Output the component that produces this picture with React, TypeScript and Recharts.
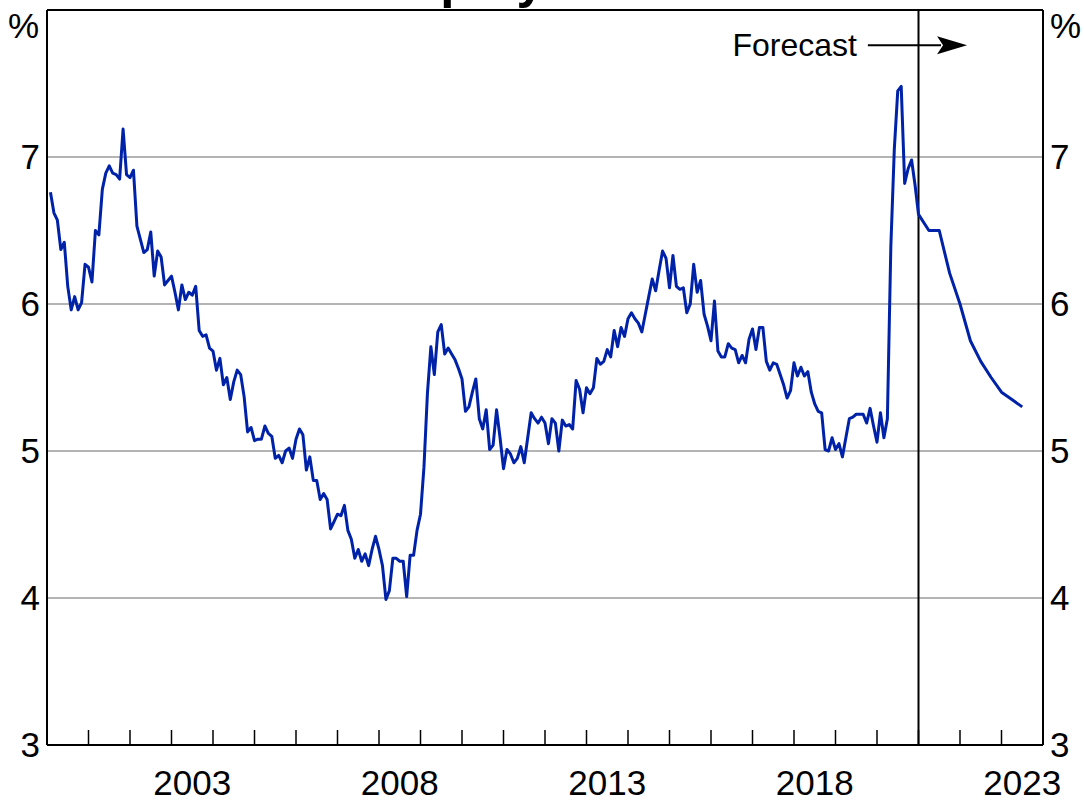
import React from 'react';
import { LineChart, Line, XAxis, YAxis, CartesianGrid, ReferenceLine, Customized } from 'recharts';

// Monthly unemployment rate, per cent (Jan..Dec)
const u2000 = [6.76, 6.62, 6.57, 6.37, 6.42, 6.12, 5.96, 6.05, 5.96, 6.01, 6.27, 6.25];
const u2001 = [6.15, 6.5, 6.47, 6.78, 6.89, 6.94, 6.89, 6.88, 6.85, 7.19, 6.88, 6.86];
const u2002 = [6.91, 6.53, 6.44, 6.35, 6.37, 6.49, 6.19, 6.36, 6.32, 6.13, 6.16, 6.19];
const u2003 = [6.08, 5.96, 6.13, 6.03, 6.08, 6.06, 6.12, 5.82, 5.78, 5.79, 5.7, 5.68];
const u2004 = [5.55, 5.63, 5.45, 5.5, 5.35, 5.47, 5.55, 5.52, 5.37, 5.13, 5.16, 5.07];
const u2005 = [5.08, 5.08, 5.17, 5.12, 5.1, 4.95, 4.97, 4.92, 5.0, 5.02, 4.95, 5.08];
const u2006 = [5.15, 5.11, 4.87, 4.96, 4.8, 4.8, 4.67, 4.71, 4.67, 4.47, 4.52, 4.57];
const u2007 = [4.56, 4.63, 4.46, 4.4, 4.27, 4.33, 4.25, 4.3, 4.22, 4.33, 4.42, 4.33];
const u2008 = [4.22, 3.99, 4.05, 4.27, 4.27, 4.25, 4.25, 4.01, 4.29, 4.29, 4.46, 4.57];
const u2009 = [4.89, 5.39, 5.71, 5.52, 5.81, 5.86, 5.66, 5.7, 5.66, 5.62, 5.56, 5.49];
const u2010 = [5.27, 5.3, 5.4, 5.49, 5.22, 5.15, 5.28, 5.01, 5.04, 5.28, 5.09, 4.88];
const u2011 = [5.01, 4.98, 4.92, 4.95, 5.03, 4.92, 5.09, 5.26, 5.22, 5.19, 5.23, 5.19];
const u2012 = [5.05, 5.22, 5.19, 5.0, 5.21, 5.17, 5.18, 5.15, 5.48, 5.42, 5.26, 5.43];
const u2013 = [5.39, 5.43, 5.63, 5.59, 5.61, 5.69, 5.64, 5.82, 5.71, 5.84, 5.78, 5.9];
const u2014 = [5.94, 5.9, 5.87, 5.81, 5.93, 6.05, 6.17, 6.09, 6.23, 6.36, 6.31, 6.11];
const u2015 = [6.33, 6.12, 6.1, 6.11, 5.94, 6.0, 6.27, 6.08, 6.16, 5.93, 5.85, 5.75];
const u2016 = [6.02, 5.68, 5.64, 5.64, 5.73, 5.7, 5.69, 5.6, 5.65, 5.6, 5.76, 5.83];
const u2017 = [5.69, 5.84, 5.84, 5.61, 5.55, 5.6, 5.59, 5.52, 5.45, 5.36, 5.41, 5.6];
const u2018 = [5.51, 5.57, 5.51, 5.54, 5.4, 5.32, 5.27, 5.26, 5.01, 5.0, 5.09, 5.01];
const u2019 = [5.05, 4.96, 5.09, 5.22, 5.23, 5.25, 5.25, 5.25, 5.19, 5.29, 5.17, 5.06];
const u2020 = [5.26, 5.09, 5.22, 6.39, 7.05, 7.45, 7.48, 6.82, 6.92, 6.98, 6.81, 6.61];

const actualYears = [2000, 2001, 2002, 2003, 2004, 2005, 2006, 2007, 2008, 2009, 2010,
  2011, 2012, 2013, 2014, 2015, 2016, 2017, 2018, 2019, 2020];
const actualByYear = [u2000, u2001, u2002, u2003, u2004, u2005, u2006, u2007, u2008, u2009, u2010,
  u2011, u2012, u2013, u2014, u2015, u2016, u2017, u2018, u2019, u2020];

// Quarterly forecast (end of quarter)
const forecastDates = [2021.25, 2021.5, 2021.75, 2022, 2022.25, 2022.5, 2022.75, 2023, 2023.25, 2023.5];
const forecastValues = [6.5, 6.5, 6.21, 6.0, 5.75, 5.61, 5.5, 5.4, 5.35, 5.3];

const yTicks = [3, 4, 5, 6, 7];
const yDomain = [3, 8];
const xDomain = [2000, 2024];
const yearTickMarks = [2001, 2002, 2003, 2004, 2005, 2006, 2007, 2008, 2009, 2010, 2011, 2012,
  2013, 2014, 2015, 2016, 2017, 2018, 2019, 2020, 2021, 2022, 2023];
const yearLabels = [2003, 2008, 2013, 2018, 2023];
const forecastStart = 2021;
const arrowFrom = { x: 2019.78, y: 7.76 };
const arrowTo = { x: 2022.17, y: 7.76 };

const data: { t: number; v: number }[] = [];
actualByYear.forEach((vals, k) => {
  vals.forEach((v, m) => data.push({ t: actualYears[k] + (m + 1) / 12, v }));
});
forecastDates.forEach((t, i) => data.push({ t, v: forecastValues[i] }));

const labelTicks = yearLabels.map((y) => y + 0.5);

const FONT = '"Liberation Sans", Arial, Helvetica, sans-serif';
const LINE_COLOR = '#0022a8';

const EmptyTick = () => <g />;

const ForecastArrow = (props: any) => {
  const { x1, y1, x2 } = props;
  return (
    <g>
      <text x={x1 - 11} y={y1 + 11} textAnchor="end" fontSize={32} fontFamily={FONT} fill="#000">
        Forecast
      </text>
      <line x1={x1} y1={y1} x2={x2 - 26} y2={y1} stroke="#000" strokeWidth={2} />
      <polygon
        points={`${x2},${y1} ${x2 - 30},${y1 - 9} ${x2 - 24},${y1} ${x2 - 30},${y1 + 9}`}
        fill="#000"
      />
    </g>
  );
};

const Decorations = () => (
  <g fontFamily={FONT} fill="#000">
    <text x={545} y={17} textAnchor="middle" fontSize={51} fontWeight="bold">
      Unemployment Rate
    </text>
    <text x={39} y={58} textAnchor="end" fontSize={35}>%</text>
    <text x={1050} y={58} textAnchor="start" fontSize={35}>%</text>
  </g>
);

export default function App() {
  const tickStyle = { fill: '#000', fontSize: 35, fontFamily: FONT };
  return (
    <div style={{ position: 'absolute', left: 0, top: -20, width: 1084, height: 821 }}>
      <LineChart
        width={1084}
        height={821}
        data={data}
        margin={{ top: 30, right: 0, bottom: 0, left: 0 }}
      >
        <CartesianGrid vertical={false} stroke="#b4b4b4" strokeWidth={2} />
        <XAxis
          xAxisId="lab"
          dataKey="t"
          type="number"
          domain={xDomain}
          allowDataOverflow
          ticks={labelTicks}
          interval={0}
          tickFormatter={(v: number) => String(Math.floor(v))}
          tickSize={0}
          tickMargin={25}
          height={56}
          axisLine={{ stroke: '#000', strokeWidth: 2 }}
          tickLine={false}
          tick={tickStyle}
        />
        <XAxis
          dataKey="t"
          type="number"
          domain={xDomain}
          allowDataOverflow
          ticks={yearTickMarks}
          interval={0}
          mirror
          tick={EmptyTick}
          tickSize={15}
          tickMargin={0}
          height={15}
          axisLine={{ stroke: '#000', strokeWidth: 2 }}
          tickLine={{ stroke: '#000', strokeWidth: 1.5 }}
        />
        <YAxis
          type="number"
          domain={yDomain}
          allowDataOverflow
          ticks={yTicks}
          interval={0}
          width={47}
          tickSize={0}
          tickMargin={7}
          tickLine={false}
          axisLine={{ stroke: '#000', strokeWidth: 2 }}
          tick={tickStyle}
        />
        <YAxis
          yAxisId="r"
          orientation="right"
          type="number"
          domain={yDomain}
          allowDataOverflow
          ticks={yTicks}
          interval={0}
          width={41}
          tickSize={0}
          tickMargin={7}
          tickLine={false}
          axisLine={{ stroke: '#000', strokeWidth: 2 }}
          tick={tickStyle}
        />
        <ReferenceLine y={8} stroke="#000" strokeWidth={2} />
        <ReferenceLine x={forecastStart} stroke="#000" strokeWidth={2} />
        <Line
          dataKey="v"
          type="linear"
          stroke={LINE_COLOR}
          strokeWidth={3}
          strokeLinejoin="round"
          dot={false}
          activeDot={false}
          isAnimationActive={false}
        />
        <ReferenceLine segment={[arrowFrom, arrowTo]} shape={ForecastArrow} />
        <Customized component={Decorations} />
      </LineChart>
    </div>
  );
}
